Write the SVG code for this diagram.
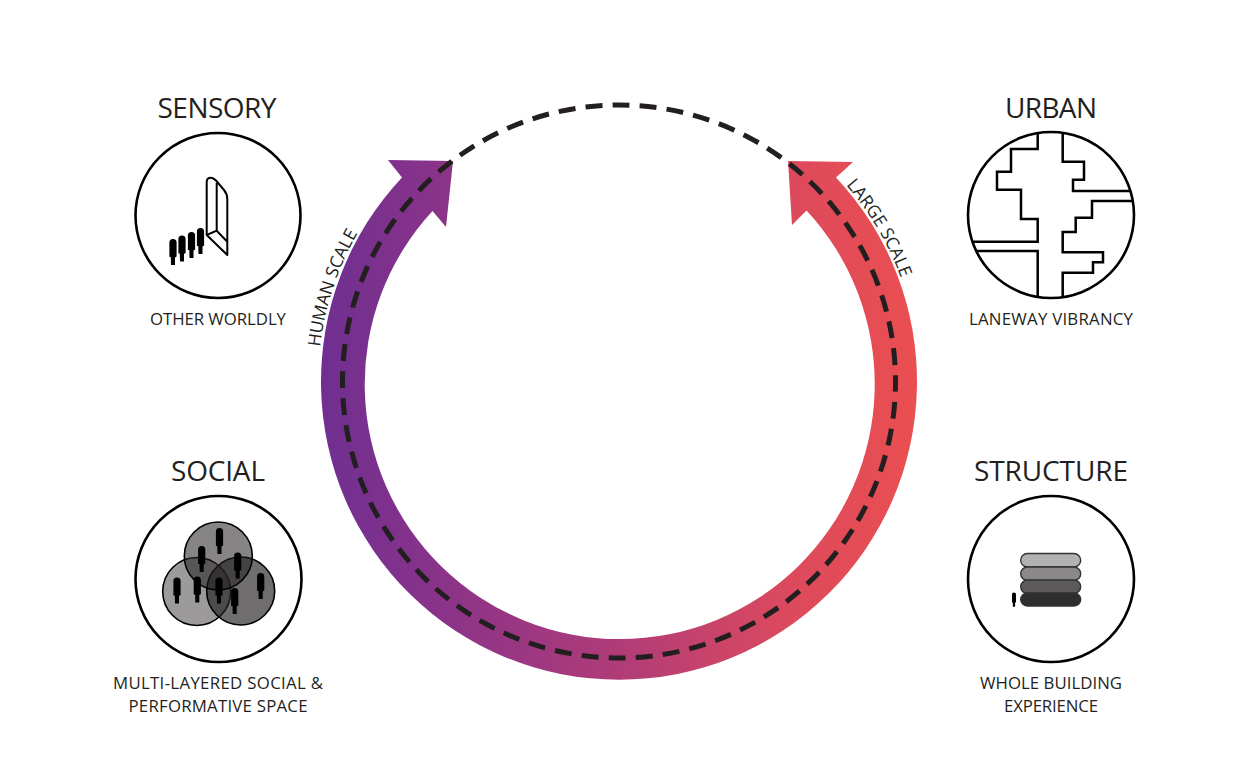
<svg xmlns="http://www.w3.org/2000/svg" width="1241" height="778" viewBox="0 0 1241 778">
<style>
text{font-family:"Open Sans","Noto Sans","Liberation Sans",sans-serif;fill:#231f20;text-anchor:middle}
.t{font-size:28px}
.s{font-size:16.8px}
.c{font-size:17.5px;text-anchor:start}
.ring{fill:#fff;stroke:#000;stroke-width:2.6}
.line{fill:none;stroke:#000;stroke-width:2.5}
.vis{stroke:#000;stroke-width:1.6}
.pill{stroke:#333;stroke-width:1.4}
</style>
<defs>
<linearGradient id="g" gradientUnits="userSpaceOnUse" x1="321" y1="0" x2="917" y2="0">
<stop offset="0" stop-color="#6f2f91"/><stop offset="0.2" stop-color="#8a3389"/><stop offset="0.5" stop-color="#b03c78"/><stop offset="0.8" stop-color="#de4a5c"/><stop offset="1" stop-color="#ea4f50"/>
</linearGradient>
<path id="p" d="M0 0C2.500 0 3.600 1.500 3.600 3.500V17.500L2 18.500V26H-2L-2.200 18H-3.600V3.500C-3.600 1.500-2.500 0 0 0Z" fill="#000"/>
<path id="hs" d="M320.100 347 A301 301 0 0 1 400 176"/>
<path id="ls" d="M846 185 A301 301 0 0 1 918 350"/>
</defs>
<rect width="1241" height="778" fill="#fff"/>
<g id="connectors">
<path d="M432.500 211 L446 227 L453 161 L388 160 L402 177.500 A298 298 0 1 0 836 177.500 L853 162 L788 161 L792 225 L806.500 210.500 A255 255 0 1 1 432.500 211Z" fill="url(#g)"/>
<circle cx="619" cy="381.500" r="276.500" fill="none" stroke="#231f20" stroke-width="5" stroke-dasharray="17 10.140" stroke-dashoffset="6.740"/>
<text class="c"><textPath href="#hs">HUMAN SCALE</textPath></text>
<text class="c"><textPath href="#ls">LARGE SCALE</textPath></text>
</g>
<g id="sensory">
<text class="t" x="217" y="118" textLength="119">SENSORY</text>
<circle class="ring" cx="218" cy="215.500" r="82.500"/>
<path class="line" stroke-linejoin="round" d="M206.700 235V182C206.700 178 209 177.700 211 177.700C213 177.700 214 178.500 216 180.500L224 190C226.500 193 227.300 196 227.300 199V255L206.700 235L216.700 230.700V183M216.700 230.700L227.300 241.700" style="stroke-width:2"/>
<use href="#p" x="173" y="239"/><use href="#p" x="182" y="235.500"/><use href="#p" x="191.500" y="232"/><use href="#p" x="200.500" y="228"/>
<text class="s" x="218" y="325" textLength="136">OTHER WORLDLY</text>
</g>
<g id="urban">
<text class="t" x="1051" y="118" textLength="92">URBAN</text>
<circle class="ring" cx="1051" cy="215" r="83"/>
<path class="line" d="M1037.700 134V149H1011V171.700H997V189.700H1021V219H1037.700V241.700H971.700M975.700 251H1037.700V296.700M1062.700 134V161.700H1084V179.700H1073V191H1130M1132 201H1092V217.700H1075.700V232H1062.700V252.300H1103V262.300H1093V272.700H1062.700V296.700"/>
<text class="s" x="1051" y="325" textLength="164">LANEWAY VIBRANCY</text>
</g>
<g id="social">
<text class="t" x="218" y="481" textLength="94">SOCIAL</text>
<circle class="ring" cx="218.500" cy="579" r="83"/>
<circle class="vis" cx="196.700" cy="591.500" r="34" fill="#231f20" fill-opacity="0.45"/>
<circle class="vis" cx="240.700" cy="591" r="34" fill="#231f20" fill-opacity="0.65"/>
<circle class="vis" cx="218.300" cy="556" r="34" fill="#231f20" fill-opacity="0.55"/>
<use href="#p" x="219.500" y="528"/><use href="#p" x="201.700" y="546"/><use href="#p" x="237.700" y="552.500"/><use href="#p" x="177" y="577.500"/><use href="#p" x="197.300" y="576.500"/><use href="#p" x="219" y="577.500"/><use href="#p" x="234.700" y="588"/><use href="#p" x="260.700" y="573"/>
<text class="s" x="218" y="689" textLength="210">MULTI-LAYERED SOCIAL &amp;</text>
<text class="s" x="218" y="712" textLength="179">PERFORMATIVE SPACE</text>
</g>
<g id="structure">
<text class="t" x="1051" y="481" textLength="154">STRUCTURE</text>
<circle class="ring" cx="1051" cy="579" r="83"/>
<rect class="pill" x="1020.700" y="553.500" width="60" height="13.500" rx="6.700" fill="#b3b1b1"/>
<rect class="pill" x="1020.700" y="567" width="60" height="13.500" rx="6.700" fill="#8a8888"/>
<rect class="pill" x="1020.700" y="580" width="60" height="13.500" rx="6.700" fill="#5c5a5a"/>
<rect class="pill" x="1020.700" y="593" width="60" height="13" rx="6.500" fill="#2f2d2d"/>
<use href="#p" transform="translate(1014 592.500) scale(.55)"/>
<text class="s" x="1051" y="689" textLength="142">WHOLE BUILDING</text>
<text class="s" x="1051" y="712" textLength="94">EXPERIENCE</text>
</g>
</svg>
